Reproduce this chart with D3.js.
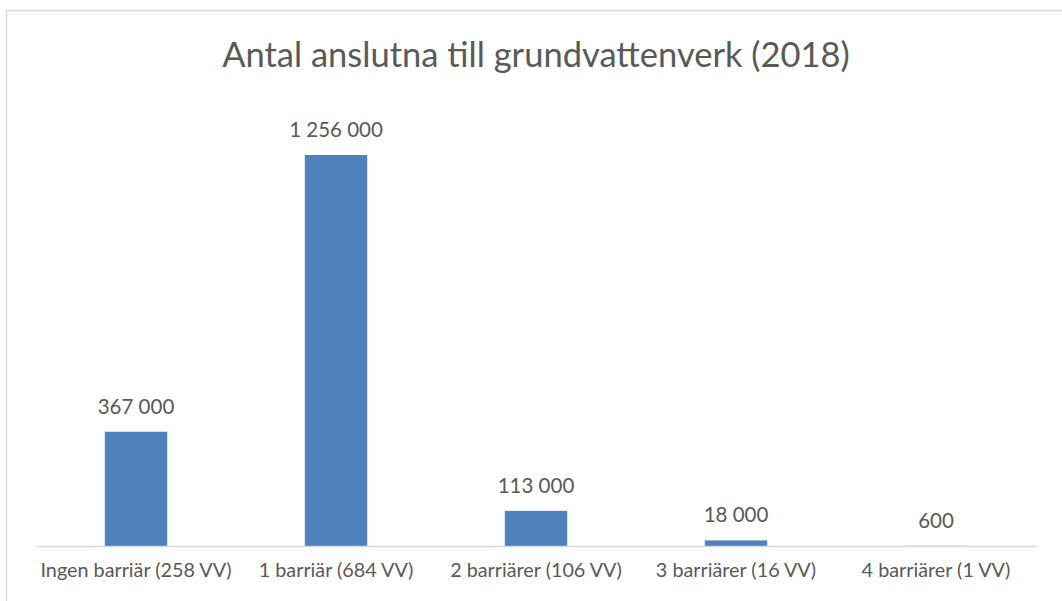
<html>
<head>
<script src="https://d3js.org/d3.v7.min.js"></script>
<style>
  body { margin:0; background:#fff; }
  text { font-family: Lato, "Open Sans", sans-serif; fill:#595959; }
</style>
</head>
<body>
<svg id="chart"></svg>
<script>

// categories and values
var categories = ["Ingen barriär (258 VV)", "1 barriär (684 VV)", "2 barriärer (106 VV)", "3 barriärer (16 VV)", "4 barriärer (1 VV)"];
var values = [367000, 1256000, 113000, 18000, 600];
var valueLabels = ["367 000", "1 256 000", "113 000", "18 000", "600"];
var title = "Antal anslutna till grundvattenverk (2018)";

var screen = {width:1062, height:601};
var margins = {top:110, bottom:55, left:36, right:26};

var graph = {
    width: screen.width - margins.left - margins.right,
    height: screen.height - margins.top - margins.bottom
};

var svg = d3.select("#chart")
    .attr("width", screen.width)
    .attr("height", screen.height);

// chart frame
svg.append("rect")
    .attr("x", 6.5)
    .attr("y", 10.5)
    .attr("width", 1070)
    .attr("height", 620)
    .attr("fill", "none")
    .attr("stroke", "#d9d9d9")
    .attr("stroke-width", 1.5);

// title
svg.append("text")
    .text(title)
    .attr("x", 536)
    .attr("y", 67)
    .attr("text-anchor", "middle")
    .style("font-size", "34.5px");

var g = svg.append("g")
    .attr("transform", "translate(" + margins.left + "," + margins.top + ")");

var xScale = d3.scaleBand()
    .domain(categories)
    .range([0, graph.width])
    .paddingInner(0.688)
    .paddingOuter(0.344);

// domain chosen so that 1 256 000 reaches y=154
var yScale = d3.scaleLinear()
    .domain([0, 1400000])
    .range([graph.height, graph.height - 1400000 * 391 / 1256000]);

// bars
g.selectAll("rect.bar")
    .data(values)
    .enter()
    .append("rect")
    .classed("bar", true)
    .attr("x", function(d, i) { return xScale(categories[i]); })
    .attr("y", function(d) { return yScale(d); })
    .attr("width", xScale.bandwidth())
    .attr("height", function(d) { return graph.height - yScale(d); })
    .attr("fill", "#4f81bd");

// value labels
g.selectAll("text.value")
    .data(values)
    .enter()
    .append("text")
    .classed("value", true)
    .text(function(d, i) { return valueLabels[i]; })
    .attr("x", function(d, i) { return xScale(categories[i]) + xScale.bandwidth() / 2; })
    .attr("y", function(d) { return yScale(d) - 18; })
    .attr("text-anchor", "middle")
    .style("font-size", "20.5px");

// x axis
var xAxis = d3.axisBottom(xScale).tickSize(0).tickPadding(17);
var axis = g.append("g")
    .attr("transform", "translate(0," + graph.height + ")")
    .call(xAxis);
axis.select(".domain").attr("stroke", "#d9d9d9").attr("stroke-width", 1.5);
axis.selectAll("text")
    .style("font-size", "19.8px")
    .style("font-family", "Lato, sans-serif")
    .attr("fill", "#595959")
    .attr("dy", "0.71em");

</script>
</body>
</html>
